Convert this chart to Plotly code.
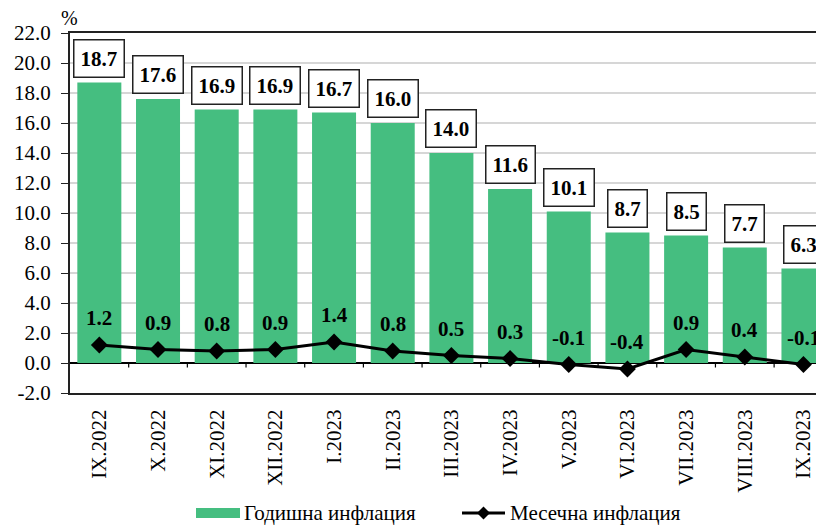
import plotly.graph_objects as go

categories = ["IX.2022", "X.2022", "XI.2022", "XII.2022", "I.2023", "II.2023", "III.2023",
              "IV.2023", "V.2023", "VI.2023", "VII.2023", "VIII.2023", "IX.2023"]
annual = [18.7, 17.6, 16.9, 16.9, 16.7, 16.0, 14.0, 11.6, 10.1, 8.7, 8.5, 7.7, 6.3]
monthly = [1.2, 0.9, 0.8, 0.9, 1.4, 0.8, 0.5, 0.3, -0.1, -0.4, 0.9, 0.4, -0.1]
y_ticks = [-2, 0, 2, 4, 6, 8, 10, 12, 14, 16, 18, 20, 22]
y_tick_labels = [f"{v:.1f}" for v in y_ticks]
series_names = ["Годишна инфлация", "Месечна инфлация"]

FONT = "Liberation Serif"
GREEN = "#45BE80"

# page body has an 8px margin; figure sized to fill the rest of the 824x526 window
W, H = 816, 518
ML, MT, PH = 62, 25, 360
PW = W - ML
MB = H - MT - PH


def px2x(px):
    return (px - ML) / PW


def px2y(py):
    return (MT + PH - py) / PH


fig = go.Figure()
fig.add_trace(go.Bar(x=categories, y=annual, name=series_names[0],
                     marker=dict(color=GREEN, line=dict(width=0))))
fig.add_trace(go.Scatter(x=categories, y=monthly, name=series_names[1], mode="lines+markers",
                         line=dict(color="black", width=3),
                         marker=dict(symbol="diamond", size=13, color="black")))

annotations = []
for c, v in zip(categories, annual):
    annotations.append(dict(x=c, y=v, xref="x", yref="y", text=f"<b>{v:.1f}</b>", showarrow=False,
                            yanchor="bottom", yshift=5, font=dict(family=FONT, size=21, color="black"),
                            bgcolor="white", bordercolor="#222", borderwidth=1.5, borderpad=6))
for c, v in zip(categories, monthly):
    annotations.append(dict(x=c, y=v, xref="x", yref="y", text=f"<b>{v:.1f}</b>", showarrow=False,
                            yanchor="middle", yshift=27, font=dict(family=FONT, size=21, color="black")))
annotations.append(dict(x=0, y=1, xref="paper", yref="paper", text="%", showarrow=False,
                        xanchor="right", yanchor="bottom", xshift=10, yshift=2,
                        font=dict(family=FONT, size=20, color="black")))

shapes = []
for i in range(len(categories)):
    shapes.append(dict(type="line", xref="x", yref="y", x0=i + 0.5, x1=i + 0.5, y0=0, y1=-0.3,
                       line=dict(color="black", width=1.2)))

# custom legend (bottom)
LY = 505
shapes.append(dict(type="rect", xref="paper", yref="paper", x0=px2x(188), x1=px2x(232),
                   y0=px2y(LY + 5), y1=px2y(LY - 5), fillcolor=GREEN, line=dict(width=0)))
annotations.append(dict(x=px2x(234), y=px2y(LY), xref="paper", yref="paper", text=series_names[0],
                        showarrow=False, xanchor="left", yanchor="middle",
                        font=dict(family=FONT, size=21, color="black")))
shapes.append(dict(type="line", xref="paper", yref="paper", x0=px2x(454), x1=px2x(497),
                   y0=px2y(LY), y1=px2y(LY), line=dict(color="black", width=3)))
cx, d = 475.5, 6.5
shapes.append(dict(type="path", xref="paper", yref="paper",
                   path=(f"M {px2x(cx - d)} {px2y(LY)} L {px2x(cx)} {px2y(LY - d)} "
                         f"L {px2x(cx + d)} {px2y(LY)} L {px2x(cx)} {px2y(LY + d)} Z"),
                   fillcolor="black", line=dict(width=0)))
annotations.append(dict(x=px2x(500), y=px2y(LY), xref="paper", yref="paper", text=series_names[1],
                        showarrow=False, xanchor="left", yanchor="middle",
                        font=dict(family=FONT, size=21, color="black")))

fig.update_layout(
    width=W, height=H,
    margin=dict(l=ML, r=0, t=MT, b=MB, autoexpand=False),
    paper_bgcolor="white", plot_bgcolor="white",
    font=dict(family=FONT, size=20, color="black"),
    bargap=0.25,
    showlegend=False,
    annotations=annotations,
    shapes=shapes,
)
fig.update_xaxes(range=[-0.5, 12.35], tickangle=-90, showline=True, mirror=True, automargin=False,
                 linecolor="#222", linewidth=2, ticks="", showgrid=False, ticklabelstandoff=6,
                 tickfont=dict(family=FONT, size=21, color="black"))
fig.update_yaxes(range=[-2, 22], tickvals=y_ticks, ticktext=y_tick_labels, showline=True,
                 linecolor="#222", automargin=False,
                 linewidth=2, ticks="outside", ticklen=7, tickcolor="#222", ticklabelstandoff=6,
                 showgrid=True, gridcolor="#d6d6d6", gridwidth=1.5,
                 zeroline=True, zerolinecolor="black", zerolinewidth=1.5,
                 tickfont=dict(family=FONT, size=21, color="black"))

fig.write_html("out.html")
